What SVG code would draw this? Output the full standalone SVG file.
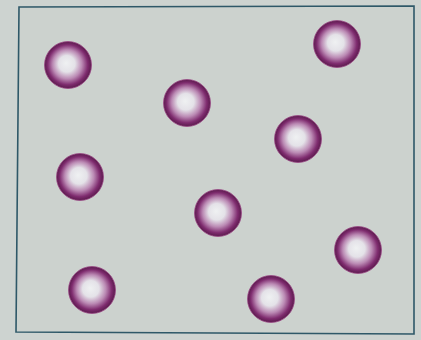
<svg xmlns="http://www.w3.org/2000/svg" width="421" height="340" viewBox="0 0 421 340">
<defs>
<radialGradient id="sph" cx="0.5" cy="0.5" r="0.5" fx="0.46" fy="0.46">
<stop offset="0" stop-color="#eff1f2"/>
<stop offset="0.35" stop-color="#e4e2e8"/>
<stop offset="0.62" stop-color="#bb8ab4"/>
<stop offset="0.85" stop-color="#7f2c6f"/>
<stop offset="1" stop-color="#5a1a4c"/>
</radialGradient>
</defs>
<style>
.ball{fill:url(#sph);stroke:#9a4a86;stroke-width:0.8}
.box{fill:#ccd2ce;stroke:#2e5868;stroke-width:1.6}
</style>
<rect x="0" y="0" width="421" height="340" fill="#cdd3d0"/>
<path class="box" d="M19 7 L414 6 L414 334 L16 332 Z"/>
<g id="p1"><circle class="ball" cx="68" cy="65" r="23.5"/></g>
<g id="p2"><circle class="ball" cx="337" cy="44" r="23.5"/></g>
<g id="p3"><circle class="ball" cx="187" cy="103" r="23.5"/></g>
<g id="p4"><circle class="ball" cx="298" cy="139" r="23.5"/></g>
<g id="p5"><circle class="ball" cx="80" cy="177" r="23.5"/></g>
<g id="p6"><circle class="ball" cx="218" cy="213" r="23.5"/></g>
<g id="p7"><circle class="ball" cx="358" cy="250" r="23.5"/></g>
<g id="p8"><circle class="ball" cx="92" cy="290" r="23.5"/></g>
<g id="p9"><circle class="ball" cx="271" cy="299" r="23.5"/></g>
<g id="connectors"/>
</svg>
